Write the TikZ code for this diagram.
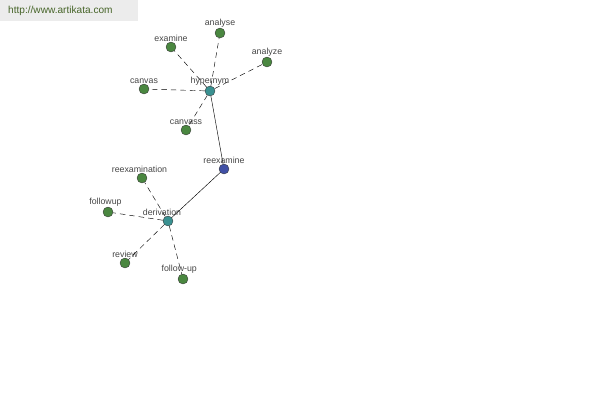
\documentclass[tikz,border=0pt]{standalone}
\usepackage{fontspec}
\setmainfont{Liberation Sans}
\usetikzlibrary{positioning}
\definecolor{wordgreen}{RGB}{74, 135, 64}
\definecolor{relteal}{RGB}{58, 145, 145}
\definecolor{rootblue}{RGB}{64, 80, 165}
\definecolor{lblgray}{RGB}{70, 70, 70}
\definecolor{bannergray}{RGB}{236, 236, 236}
\definecolor{urlgreen}{RGB}{70, 100, 40}

\begin{document}
\begin{tikzpicture}[
  x=0.4mm, y=-0.4mm,
  every node/.style={font=\fontsize{10}{12}\selectfont},
  word/.style={circle, draw=black!80, fill=wordgreen, minimum size=4mm, inner sep=0pt, line width=0.4pt},
  rel/.style={word, fill=relteal},
  root/.style={word, fill=rootblue},
  lbl/.style={text=lblgray, inner sep=0.5pt},
  weak/.style={dashed, dash pattern=on 2.2mm off 1.6mm, line width=0.5pt},
  strong/.style={line width=0.5pt}
]
  \useasboundingbox (0,0) rectangle (600,400);

  % Banner
  \fill[bannergray] (0,0) rectangle (138,21);
  \node[text=urlgreen, anchor=west, inner sep=0pt, font=\fontsize{11.5}{13}\selectfont] (site) at (8,11) {http://www.artikata.com};

  % Mot et relations
  \node[root, label={[lbl]above:reexamine}] (reexamine) at (224,169) {};
  \node[rel, label={[lbl]above:hypernym}] (hypernym) at (210,91) {};
  \node[rel, label={[lbl, xshift=-2.4mm]above:derivation}] (derivation) at (168,221) {};

  % Hypernym
  \node[word, label={[lbl]above:examine}] (examine) at (171,47) {};
  \node[word, label={[lbl]above:analyse}] (analyse) at (220,33) {};
  \node[word, label={[lbl]above:analyze}] (analyze) at (267,62) {};
  \node[word, label={[lbl]above:canvas}] (canvas) at (144,89) {};
  \node[word, label={[lbl]above:canvass}] (canvass) at (186,130) {};

  % Derivation
  \node[word, label={[lbl, xshift=-1mm]above:reexamination}] (reexamination) at (142,178) {};
  \node[word, label={[lbl, xshift=-1mm]above:followup}] (followup) at (108,212) {};
  \node[word, label={[lbl]above:review}] (review) at (125,263) {};
  \node[word, label={[lbl, xshift=-1.5mm]above:follow-up}] (follow-up) at (183,279) {};

  % Liens
  \draw[strong] (hypernym) -- (reexamine);
  \draw[strong] (reexamine) -- (derivation);

  \foreach \w in {examine, analyse, analyze, canvas, canvass}
    \draw[weak] (hypernym) -- (\w);
  \foreach \w in {reexamination, followup, review, follow-up}
    \draw[weak] (derivation) -- (\w);

\end{tikzpicture}
\end{document}
